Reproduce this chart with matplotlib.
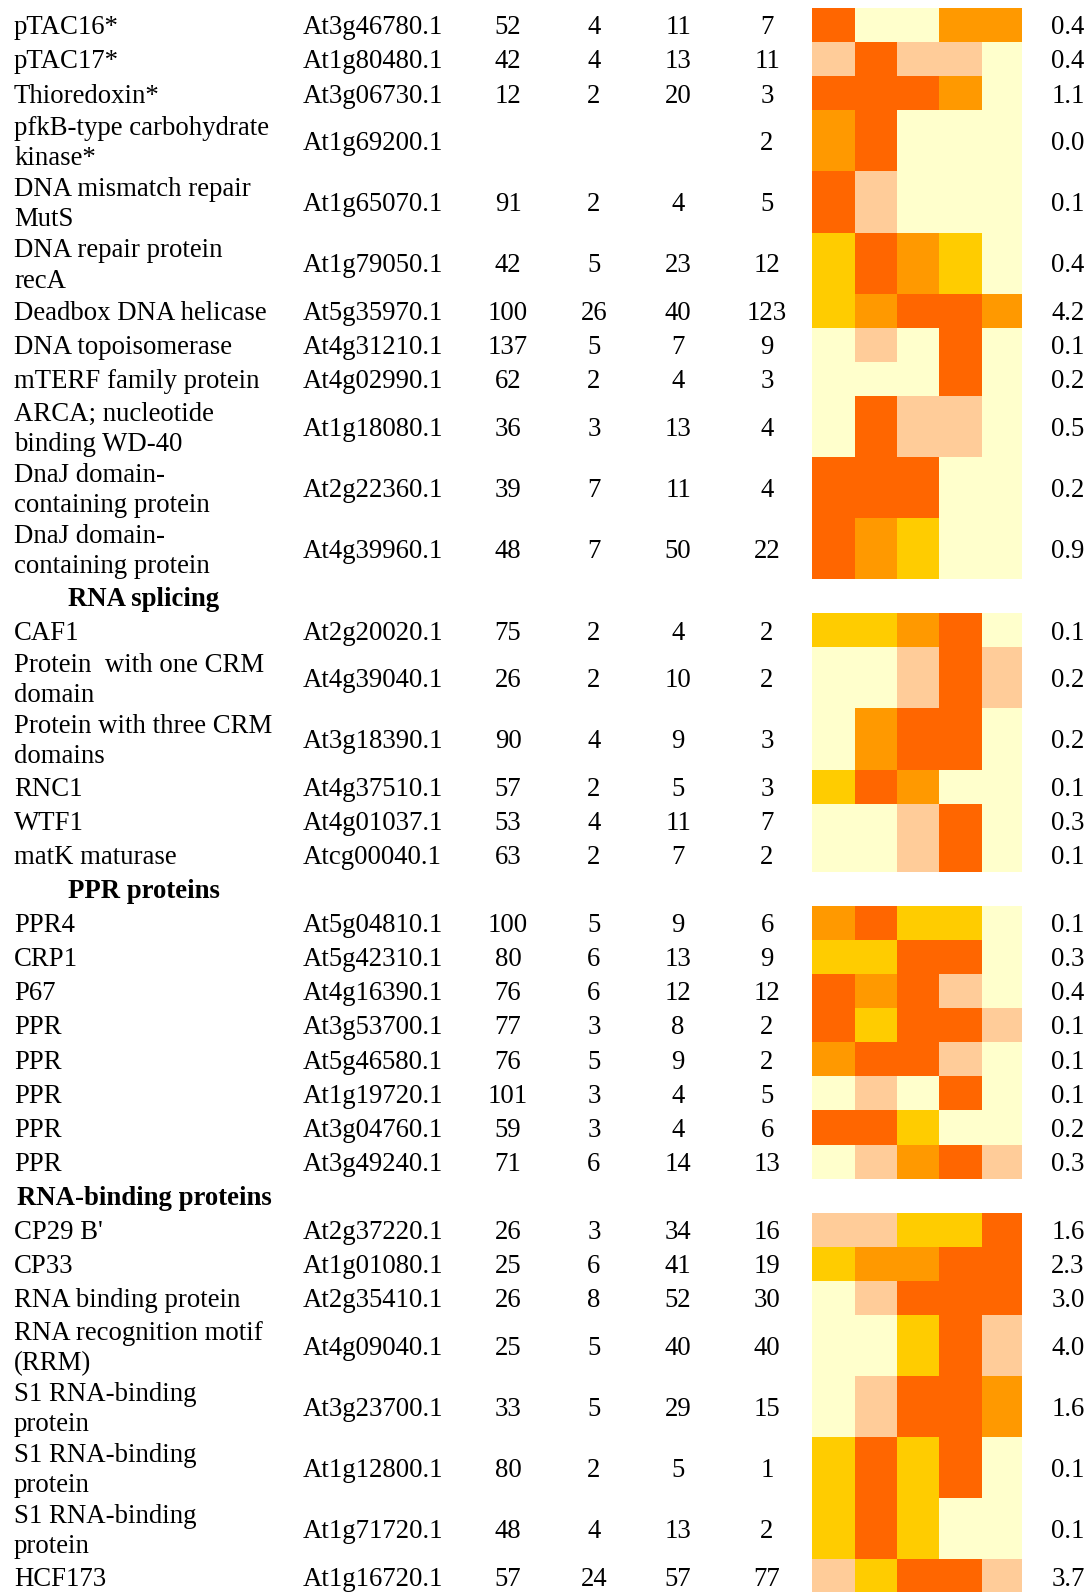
import numpy as np
import matplotlib.pyplot as plt
from matplotlib.colors import ListedColormap, BoundaryNorm

plt.rcParams['font.family'] = ['Liberation Serif', 'DejaVu Serif']
FS = 19.3

# protein names, AGI codes and peptide counts
names = ['pTAC16*', 'pTAC17*', 'Thioredoxin*', 'pfkB-type carbohydrate\nkinase*',
         'DNA mismatch repair\nMutS', 'DNA repair protein\nrecA', 'Deadbox DNA helicase',
         'DNA topoisomerase', 'mTERF family protein', 'ARCA; nucleotide\nbinding WD-40',
         'DnaJ domain-\ncontaining protein', 'DnaJ domain-\ncontaining protein',
         'CAF1', 'Protein  with one CRM\ndomain', 'Protein with three CRM\ndomains',
         'RNC1', 'WTF1', 'matK maturase',
         'PPR4', 'CRP1', 'P67', 'PPR', 'PPR', 'PPR', 'PPR', 'PPR',
         "CP29 B'", 'CP33', 'RNA binding protein', 'RNA recognition motif\n(RRM)',
         'S1 RNA-binding\nprotein', 'S1 RNA-binding\nprotein', 'S1 RNA-binding\nprotein',
         'HCF173']
agi = ['At3g46780.1', 'At1g80480.1', 'At3g06730.1', 'At1g69200.1', 'At1g65070.1',
       'At1g79050.1', 'At5g35970.1', 'At4g31210.1', 'At4g02990.1', 'At1g18080.1',
       'At2g22360.1', 'At4g39960.1',
       'At2g20020.1', 'At4g39040.1', 'At3g18390.1', 'At4g37510.1', 'At4g01037.1',
       'Atcg00040.1',
       'At5g04810.1', 'At5g42310.1', 'At4g16390.1', 'At3g53700.1', 'At5g46580.1',
       'At1g19720.1', 'At3g04760.1', 'At3g49240.1',
       'At2g37220.1', 'At1g01080.1', 'At2g35410.1', 'At4g09040.1', 'At3g23700.1',
       'At1g12800.1', 'At1g71720.1', 'At1g16720.1']
mass = [52, 42, 12, None, 91, 42, 100, 137, 62, 36, 39, 48,
        75, 26, 90, 57, 53, 63,
        100, 80, 76, 77, 76, 101, 59, 71,
        26, 25, 26, 25, 33, 80, 48, 57]
n_pep = [4, 4, 2, None, 2, 5, 26, 5, 2, 3, 7, 7,
         2, 2, 4, 2, 4, 2,
         5, 6, 6, 3, 5, 3, 3, 6,
         3, 6, 8, 5, 5, 2, 4, 24]
coverage = [11, 13, 20, None, 4, 23, 40, 7, 4, 13, 11, 50,
            4, 10, 9, 5, 11, 7,
            9, 13, 12, 8, 9, 4, 4, 14,
            34, 41, 52, 40, 29, 5, 13, 57]
spectra = [7, 11, 3, 2, 5, 12, 123, 9, 3, 4, 4, 22,
           2, 2, 3, 3, 7, 2,
           6, 9, 12, 2, 2, 5, 6, 13,
           16, 19, 30, 40, 15, 1, 2, 77]
emPAI = ['0.4', '0.4', '1.1', '0.0', '0.1', '0.4', '4.2', '0.1', '0.2', '0.5', '0.2', '0.9',
         '0.1', '0.2', '0.2', '0.1', '0.3', '0.1',
         '0.1', '0.3', '0.4', '0.1', '0.1', '0.1', '0.2', '0.3',
         '1.6', '2.3', '3.0', '4.0', '1.6', '0.1', '0.1', '3.7']

# distribution over the five fractions, 0 = lowest .. 4 = highest
heat = [[4, 0, 0, 3, 3], [1, 4, 1, 1, 0], [4, 4, 4, 3, 0], [3, 4, 0, 0, 0],
        [4, 1, 0, 0, 0], [2, 4, 3, 2, 0], [2, 3, 4, 4, 3], [0, 1, 0, 4, 0],
        [0, 0, 0, 4, 0], [0, 4, 1, 1, 0], [4, 4, 4, 0, 0], [4, 3, 2, 0, 0],
        [2, 2, 3, 4, 0], [0, 0, 1, 4, 1], [0, 3, 4, 4, 0], [2, 4, 3, 0, 0],
        [0, 0, 1, 4, 0], [0, 0, 1, 4, 0],
        [3, 4, 2, 2, 0], [2, 2, 4, 4, 0], [4, 3, 4, 1, 0], [4, 2, 4, 4, 1],
        [3, 4, 4, 1, 0], [0, 1, 0, 4, 0], [4, 4, 2, 0, 0], [0, 1, 3, 4, 1],
        [1, 1, 2, 2, 4], [2, 3, 3, 4, 4], [0, 1, 4, 4, 4], [0, 0, 2, 4, 1],
        [0, 1, 4, 4, 3], [2, 4, 2, 4, 0], [2, 4, 2, 0, 0], [1, 2, 4, 4, 1]]

# section headings, keyed by the row they come before
headings = {12: 'RNA splicing', 18: 'PPR proteins', 26: 'RNA-binding proteins'}

heat_colors = ['#FFFFCC', '#FFCC99', '#FFCC00', '#FF9900', '#FF6600']
cmap = ListedColormap(heat_colors)
norm = BoundaryNorm(np.arange(-0.5, 5.5, 1), cmap.N)

fig = plt.figure(figsize=(10.92, 15.92), dpi=100)
ax = fig.add_axes([0, 0, 1, 1])
ax.set_xlim(0, 1092)
ax.set_ylim(1592, 0)
ax.axis('off')

x_name, x_agi = 14, 303
x_nums = [508, 594, 678, 767]
x_emPAI = 1068
x_heat = [812, 855, 897, 939, 982, 1022]
row_h, row_h2, head_h = 34.1, 61.1, 34.0
base_off, line_gap = 9.3, 15.2

y = 8.0
for i in range(len(names)):
    if i in headings:
        ax.text(144, y + head_h / 2 + base_off, headings[i], ha='center', va='baseline',
                fontsize=FS, fontweight='bold')
        y += head_h
    lines = names[i].split('\n')
    h = row_h2 if len(lines) > 1 else row_h
    c = y + h / 2
    base = c + base_off
    if len(lines) == 1:
        ax.text(x_name, base, lines[0], ha='left', va='baseline', fontsize=FS)
    else:
        ax.text(x_name, base - line_gap, lines[0], ha='left', va='baseline', fontsize=FS)
        ax.text(x_name, base + line_gap, lines[1], ha='left', va='baseline', fontsize=FS)
    ax.text(x_agi, base, agi[i], ha='left', va='baseline', fontsize=FS)
    for xv, val in zip(x_nums, [mass[i], n_pep[i], coverage[i], spectra[i]]):
        if val is not None:
            ax.text(xv, base, str(val), ha='center', va='baseline', fontsize=FS)
    ax.text(x_emPAI, base, emPAI[i], ha='center', va='baseline', fontsize=FS)
    ax.pcolormesh(x_heat, [y, y + h], np.array([heat[i]]), cmap=cmap, norm=norm,
                  shading='flat', antialiased=False, linewidth=0)
    y += h

fig.savefig('out.png', dpi=100, facecolor='white')
